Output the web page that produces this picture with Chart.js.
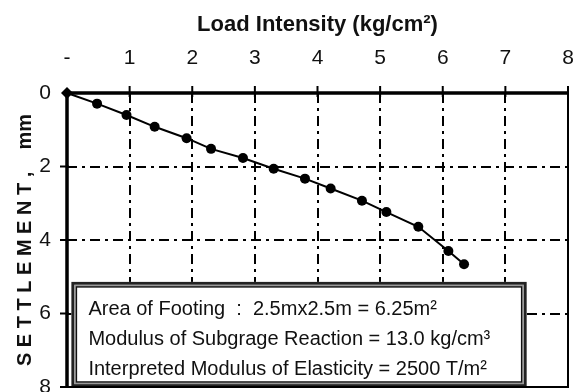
<!DOCTYPE html>
<html>
<head>
<meta charset="utf-8">
<script src="https://cdn.jsdelivr.net/npm/chart.js@4.4.1/dist/chart.umd.min.js"></script>
<style>
  html, body { margin: 0; padding: 0; background: #fff; }
  #wrap { width: 584px; height: 392px; }
</style>
</head>
<body>
<div id="wrap"><canvas id="chart" width="584" height="392"></canvas></div>
<script>
// load intensity (kg/cm2) and settlement (mm)
const loadIntensity = [0, 0.48, 0.95, 1.40, 1.91, 2.30, 2.81, 3.30, 3.80, 4.21, 4.71, 5.10, 5.61, 6.09, 6.34];
const settlement = [0, 0.29, 0.60, 0.92, 1.23, 1.52, 1.77, 2.06, 2.33, 2.60, 2.93, 3.24, 3.64, 4.30, 4.66];

const xTicks = [0, 1, 2, 3, 4, 5, 6, 7, 8];
const yTicks = [0, 2, 4, 6, 8];

const noteLines = [
  "Area of Footing  :  2.5mx2.5m = 6.25m²",
  "Modulus of Subgrage Reaction = 13.0 kg/cm³",
  "Interpreted Modulus of Elasticity = 2500 T/m²"
];
// note box corners in data units (x from/to, y from/to)
const noteBox = { x0: 0.07, x1: 7.34, y0: 5.14, y1: 8.0 };

const FONT = "'Liberation Sans', Arial, sans-serif";

const points = loadIntensity.map((x, i) => ({ x: x, y: settlement[i] }));

// grid, frame, tick marks and the note box
const framePlugin = {
  id: "framePlugin",
  beforeDatasetsDraw(chart) {
    const { ctx, chartArea: a, scales: { x, y } } = chart;
    ctx.save();
    ctx.strokeStyle = "#000";
    ctx.lineWidth = 2;
    ctx.setLineDash([10, 5, 3, 5]);
    xTicks.slice(1, -1).forEach(v => {
      const px = Math.round(x.getPixelForValue(v));
      ctx.beginPath();
      ctx.moveTo(px, a.top);
      ctx.lineTo(px, a.bottom);
      ctx.stroke();
    });
    yTicks.slice(1, -1).forEach(v => {
      const py = Math.round(y.getPixelForValue(v));
      ctx.beginPath();
      ctx.moveTo(a.left, py);
      ctx.lineTo(a.right, py);
      ctx.stroke();
    });
    ctx.restore();
  },
  afterDatasetsDraw(chart) {
    const { ctx, chartArea: a, scales: { x, y } } = chart;
    ctx.save();

    // note box
    const bx0 = x.getPixelForValue(noteBox.x0);
    const bx1 = x.getPixelForValue(noteBox.x1);
    const by0 = y.getPixelForValue(noteBox.y0);
    const by1 = y.getPixelForValue(noteBox.y1);
    ctx.fillStyle = "#fff";
    ctx.fillRect(bx0, by0, bx1 - bx0, by1 - by0);
    ctx.strokeStyle = "#222";
    ctx.lineWidth = 3;
    ctx.strokeRect(bx0 + 1.5, by0 + 1.5, bx1 - bx0 - 3, by1 - by0 - 3);
    ctx.strokeStyle = "#999";
    ctx.lineWidth = 1.5;
    ctx.strokeRect(bx0 + 3.5, by0 + 3.5, bx1 - bx0 - 7, by1 - by0 - 7);
    ctx.strokeStyle = "#111";
    ctx.lineWidth = 1.5;
    ctx.strokeRect(bx0 + 5, by0 + 5, bx1 - bx0 - 10, by1 - by0 - 10);

    ctx.fillStyle = "#111";
    ctx.font = "20px " + FONT;
    ctx.textAlign = "left";
    ctx.textBaseline = "alphabetic";
    noteLines.forEach((t, i) => {
      ctx.fillText(t, bx0 + 17, by0 + 33 + i * 30);
    });

    // frame
    ctx.strokeStyle = "#000";
    ctx.lineWidth = 2;
    ctx.beginPath();
    ctx.moveTo(a.right, a.top);
    ctx.lineTo(a.right, a.bottom);
    ctx.lineTo(a.left, a.bottom);
    ctx.stroke();
    ctx.lineWidth = 3.5;
    ctx.beginPath();
    ctx.moveTo(a.left, a.bottom);
    ctx.lineTo(a.left, a.top);
    ctx.lineTo(a.right, a.top);
    ctx.stroke();

    // tick marks
    ctx.lineWidth = 2;
    xTicks.slice(1).forEach(v => {
      const px = x.getPixelForValue(v);
      ctx.beginPath();
      ctx.moveTo(px, a.top - 7);
      ctx.lineTo(px, a.top + 4);
      ctx.stroke();
    });
    yTicks.slice(1).forEach(v => {
      const py = y.getPixelForValue(v);
      ctx.beginPath();
      ctx.moveTo(a.left - 7, py);
      ctx.lineTo(a.left + 2, py);
      ctx.stroke();
    });
    ctx.restore();
  }
};

new Chart(document.getElementById("chart"), {
  type: "scatter",
  data: {
    datasets: [{
      data: points,
      showLine: true,
      borderColor: "#000",
      borderWidth: 2,
      backgroundColor: "#000",
      pointRadius: points.map((p, i) => i === 0 ? 6 : 5),
      pointStyle: points.map((p, i) => i === 0 ? "rectRot" : "circle"),
      pointBorderWidth: 0,
      clip: false
    }]
  },
  options: {
    responsive: false,
    animation: false,
    devicePixelRatio: 1,
    layout: { autoPadding: false, padding: { left: 0, right: 16, top: 0, bottom: 5 } },
    plugins: {
      legend: { display: false },
      tooltip: { enabled: false }
    },
    scales: {
      x: {
        type: "linear",
        position: "top",
        min: 0,
        max: 8,
        grid: { display: false },
        border: { display: false },
        ticks: {
          stepSize: 1,
          color: "#111",
          padding: 14,
          font: { family: FONT, size: 21 },
          callback: v => v === 0 ? "-" : v
        },
        title: {
          display: true,
          text: "Load Intensity (kg/cm²)",
          color: "#111",
          font: { family: FONT, size: 22, weight: "bold" },
          padding: { top: 12, bottom: 0 }
        },
        afterFit(s) {
          s.height = 93;
          s.paddingLeft = 0;
          s.paddingRight = 0;
        }
      },
      y: {
        type: "linear",
        min: 0,
        max: 8,
        reverse: true,
        grid: { display: false },
        border: { display: false },
        ticks: {
          stepSize: 2,
          color: "#111",
          padding: 8,
          font: { family: FONT, size: 21 }
        },
        title: {
          display: true,
          text: "S E T T L E M E N T ,    mm",
          color: "#111",
          font: { family: FONT, size: 20, weight: "bold" },
          padding: { top: 13, bottom: 0 }
        },
        afterFit(s) {
          s.width = 67;
          s.paddingTop = 0;
          s.paddingBottom = 0;
        }
      }
    }
  },
  plugins: [framePlugin]
});
</script>
</body>
</html>
